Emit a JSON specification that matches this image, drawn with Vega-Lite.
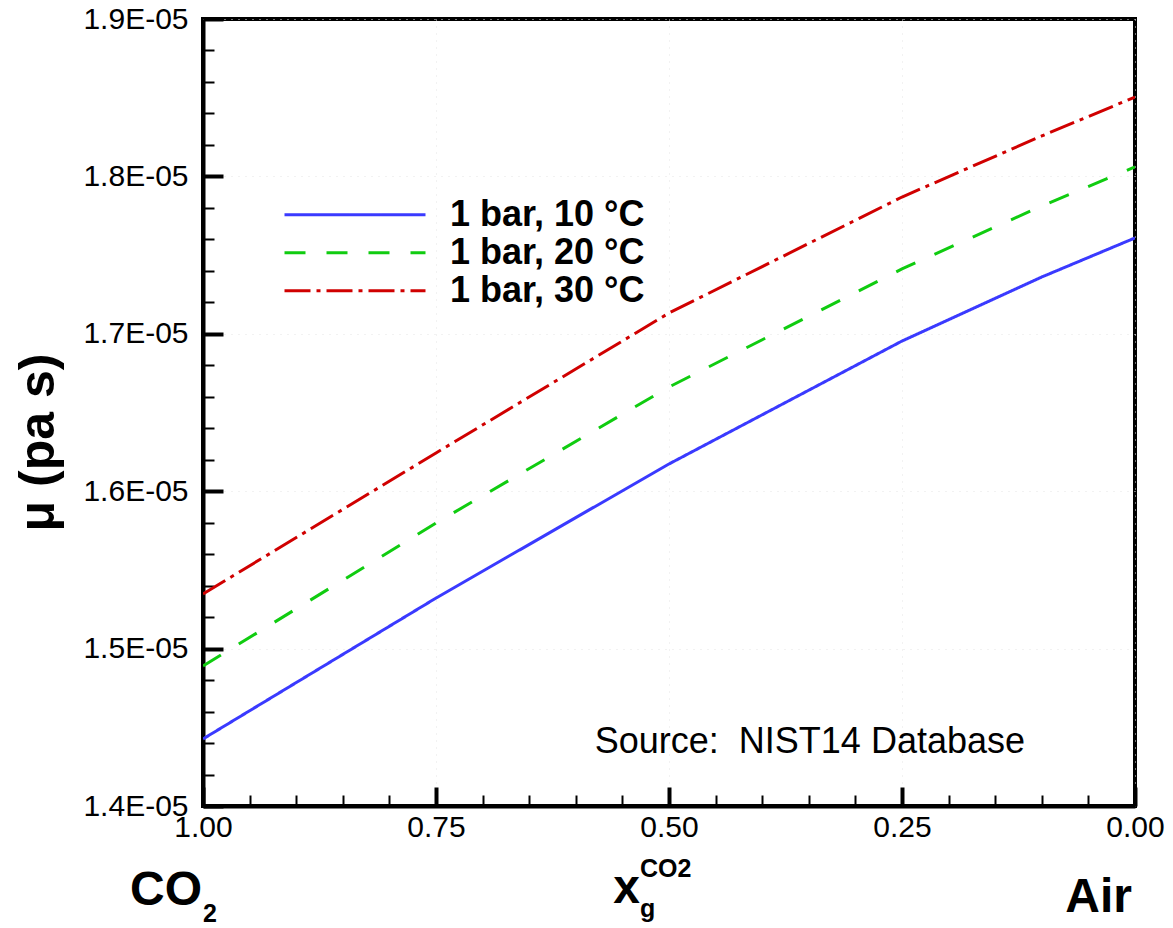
{
  "$schema": "https://vega.github.io/schema/vega-lite/v6.json",
  "width": 932,
  "height": 787,
  "autosize": {"type": "none"},
  "padding": {"left": 203, "top": 19, "right": 38, "bottom": 122},
  "background": "white",
  "config": {
    "view": {"stroke": "black", "strokeWidth": 4},
    "font": "Liberation Sans",
    "text": {"font": "Liberation Sans", "color": "black"}
  },
  "data": {
    "values": [
      {"x": 1.0, "mu": 1.4426e-5, "series": "1 bar, 10 °C"},
      {"x": 0.75, "mu": 1.5321e-5, "series": "1 bar, 10 °C"},
      {"x": 0.5, "mu": 1.6173e-5, "series": "1 bar, 10 °C"},
      {"x": 0.25, "mu": 1.6954e-5, "series": "1 bar, 10 °C"},
      {"x": 0.1, "mu": 1.7361e-5, "series": "1 bar, 10 °C"},
      {"x": 0.0, "mu": 1.7609e-5, "series": "1 bar, 10 °C"},
      {"x": 1.0, "mu": 1.4889e-5, "series": "1 bar, 20 °C"},
      {"x": 0.75, "mu": 1.5798e-5, "series": "1 bar, 20 °C"},
      {"x": 0.5, "mu": 1.6662e-5, "series": "1 bar, 20 °C"},
      {"x": 0.25, "mu": 1.7412e-5, "series": "1 bar, 20 °C"},
      {"x": 0.1, "mu": 1.7812e-5, "series": "1 bar, 20 °C"},
      {"x": 0.0, "mu": 1.8060e-5, "series": "1 bar, 20 °C"},
      {"x": 1.0, "mu": 1.5347e-5, "series": "1 bar, 30 °C"},
      {"x": 0.75, "mu": 1.6243e-5, "series": "1 bar, 30 °C"},
      {"x": 0.5, "mu": 1.7132e-5, "series": "1 bar, 30 °C"},
      {"x": 0.25, "mu": 1.7869e-5, "series": "1 bar, 30 °C"},
      {"x": 0.1, "mu": 1.8257e-5, "series": "1 bar, 30 °C"},
      {"x": 0.0, "mu": 1.8504e-5, "series": "1 bar, 30 °C"}
    ]
  },
  "resolve": {"axis": {"x": "independent", "y": "independent"}},
  "layer": [
    {
      "mark": {"type": "line", "strokeWidth": 3, "clip": true},
      "encoding": {
        "x": {
          "field": "x",
          "type": "quantitative",
          "scale": {"domain": [0, 1], "reverse": true, "nice": false, "zero": false},
          "axis": {
            "orient": "bottom",
            "title": null,
            "values": [0, 0.25, 0.5, 0.75, 1],
            "format": ".2f",
            "tickSize": -19,
            "tickWidth": 4,
            "tickColor": "black",
            "domainColor": "black",
            "domainWidth": 4,
            "labelFont": "Liberation Sans",
            "labelFontSize": 30,
            "labelColor": "black",
            "labelPadding": 25,
            "labelFlush": false,
            "labelOverlap": false,
            "grid": true,
            "gridColor": "#e4e4e4",
            "gridDash": [1, 6],
            "gridWidth": 1
          }
        },
        "y": {
          "field": "mu",
          "type": "quantitative",
          "scale": {"domain": [1.4e-5, 1.9e-5], "nice": false, "zero": false},
          "axis": {
            "orient": "left",
            "title": "μ (pa s)",
            "titleFont": "Liberation Sans",
            "titleFontSize": 50,
            "titleFontWeight": "bold",
            "titleColor": "black",
            "titleAngle": -90,
            "titleX": -150,
            "titleY": 423,
            "titleAlign": "center",
            "titleBaseline": "alphabetic",
            "values": [1.4e-5, 1.5e-5, 1.6e-5, 1.7e-5, 1.8e-5, 1.9e-5],
            "labelExpr": "format(datum.value*1e5, '.1f') + 'E-05'",
            "tickSize": -20,
            "tickWidth": 4,
            "tickColor": "black",
            "domainColor": "black",
            "domainWidth": 4,
            "labelFont": "Liberation Sans",
            "labelFontSize": 30,
            "labelColor": "black",
            "labelPadding": 35,
            "labelFlush": false,
            "labelOverlap": false,
            "grid": true,
            "gridColor": "#e4e4e4",
            "gridDash": [1, 6],
            "gridWidth": 1
          }
        },
        "color": {
          "field": "series",
          "type": "nominal",
          "scale": {"domain": ["1 bar, 10 °C", "1 bar, 20 °C", "1 bar, 30 °C"], "range": ["#3a3aff", "#10cc10", "#d00000"]},
          "legend": {
            "title": null,
            "orient": "none",
            "legendX": 80,
            "legendY": 177,
            "padding": 0,
            "symbolType": "stroke",
            "symbolSize": 19881,
            "symbolStrokeWidth": 3,
            "labelFont": "Liberation Sans",
            "labelFontSize": 36,
            "labelFontWeight": "bold",
            "labelColor": "black",
            "labelOffset": 23,
            "labelLimit": 500,
            "rowPadding": 0,
            "clipHeight": 37.5
          }
        },
        "strokeDash": {
          "field": "series",
          "type": "nominal",
          "scale": {"domain": ["1 bar, 10 °C", "1 bar, 20 °C", "1 bar, 30 °C"], "range": [[1, 0], [21, 21], [26, 6, 4, 6]]},
          "legend": {
            "title": null,
            "orient": "none",
            "legendX": 80,
            "legendY": 177,
            "padding": 0,
            "symbolType": "stroke",
            "symbolSize": 19881,
            "symbolStrokeWidth": 3,
            "labelFont": "Liberation Sans",
            "labelFontSize": 36,
            "labelFontWeight": "bold",
            "labelColor": "black",
            "labelOffset": 23,
            "labelLimit": 500,
            "rowPadding": 0,
            "clipHeight": 37.5
          }
        }
      }
    },
    {
      "mark": {"type": "line", "opacity": 0, "clip": true},
      "encoding": {
        "x": {
          "field": "x",
          "type": "quantitative",
          "scale": {"domain": [0, 1], "reverse": true, "nice": false, "zero": false},
          "axis": {
            "orient": "bottom",
            "title": null,
            "values": [0.05, 0.1, 0.15, 0.2, 0.3, 0.35, 0.4, 0.45, 0.55, 0.6, 0.65, 0.7, 0.8, 0.85, 0.9, 0.95],
            "labels": false,
            "domain": false,
            "grid": false,
            "tickSize": -11,
            "tickWidth": 2,
            "tickColor": "black"
          }
        },
        "y": {
          "field": "mu",
          "type": "quantitative",
          "scale": {"domain": [1.4e-5, 1.9e-5], "nice": false, "zero": false},
          "axis": {
            "orient": "left",
            "title": null,
            "values": [1.42e-5, 1.44e-5, 1.46e-5, 1.48e-5, 1.52e-5, 1.54e-5, 1.56e-5, 1.58e-5, 1.62e-5, 1.64e-5, 1.66e-5, 1.68e-5, 1.72e-5, 1.74e-5, 1.76e-5, 1.78e-5, 1.82e-5, 1.84e-5, 1.86e-5, 1.88e-5],
            "labels": false,
            "domain": false,
            "grid": false,
            "tickSize": -11,
            "tickWidth": 2,
            "tickColor": "black"
          }
        }
      }
    },
    {
      "data": {"values": [{"label": "Source:\u00a0 NIST14 Database"}]},
      "mark": {"type": "text", "fontSize": 36, "align": "right", "baseline": "alphabetic", "dx": -110, "dy": -53},
      "encoding": {"x": {"datum": 0, "axis": null}, "y": {"datum": 1.4e-5, "axis": null}, "text": {"field": "label"}}
    },
    {
      "data": {"values": [{"label": "CO"}]},
      "mark": {"type": "text", "fontSize": 48, "fontWeight": "bold", "align": "right", "baseline": "alphabetic", "dx": -1, "dy": 99},
      "encoding": {"x": {"datum": 1, "axis": null}, "y": {"datum": 1.4e-5, "axis": null}, "text": {"field": "label"}}
    },
    {
      "data": {"values": [{"label": "2"}]},
      "mark": {"type": "text", "fontSize": 25, "fontWeight": "bold", "align": "left", "baseline": "alphabetic", "dx": 0, "dy": 116},
      "encoding": {"x": {"datum": 1, "axis": null}, "y": {"datum": 1.4e-5, "axis": null}, "text": {"field": "label"}}
    },
    {
      "data": {"values": [{"label": "x"}]},
      "mark": {"type": "text", "fontSize": 48, "fontWeight": "bold", "align": "right", "baseline": "alphabetic", "dx": -29, "dy": 97},
      "encoding": {"x": {"datum": 0.5, "axis": null}, "y": {"datum": 1.4e-5, "axis": null}, "text": {"field": "label"}}
    },
    {
      "data": {"values": [{"label": "CO2"}]},
      "mark": {"type": "text", "fontSize": 25, "fontWeight": "bold", "align": "left", "baseline": "alphabetic", "dx": -29, "dy": 71},
      "encoding": {"x": {"datum": 0.5, "axis": null}, "y": {"datum": 1.4e-5, "axis": null}, "text": {"field": "label"}}
    },
    {
      "data": {"values": [{"label": "g"}]},
      "mark": {"type": "text", "fontSize": 25, "fontWeight": "bold", "align": "left", "baseline": "alphabetic", "dx": -29, "dy": 111},
      "encoding": {"x": {"datum": 0.5, "axis": null}, "y": {"datum": 1.4e-5, "axis": null}, "text": {"field": "label"}}
    },
    {
      "data": {"values": [{"label": "Air"}]},
      "mark": {"type": "text", "fontSize": 48, "fontWeight": "bold", "align": "right", "baseline": "alphabetic", "dx": -3, "dy": 106},
      "encoding": {"x": {"datum": 0, "axis": null}, "y": {"datum": 1.4e-5, "axis": null}, "text": {"field": "label"}}
    }
  ]
}
